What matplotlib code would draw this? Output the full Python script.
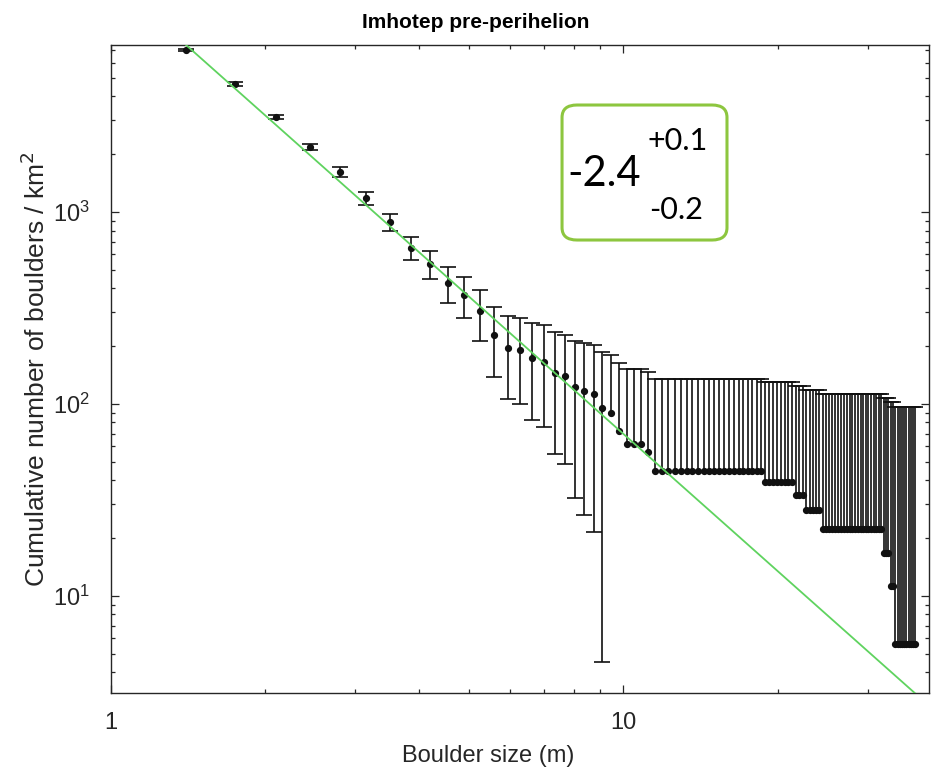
import numpy as np
import matplotlib
matplotlib.use('Agg')
import matplotlib.pyplot as plt
from matplotlib.patches import FancyBboxPatch
from matplotlib.ticker import FixedLocator, FixedFormatter, LogLocator, LogFormatterMathtext, NullFormatter

# boulder size (m)
size_m = [1.40, 1.75, 2.10, 2.45, 2.80, 3.15, 3.50, 3.85, 4.20, 4.55,
          4.90, 5.25, 5.60, 5.95, 6.30, 6.65, 7.00, 7.35, 7.70, 8.05,
          8.40, 8.75, 9.10, 9.45, 9.80, 10.15, 10.50, 10.85, 11.20, 11.55,
          11.90, 12.25, 12.60, 12.95, 13.30, 13.65, 14.00, 14.35, 14.70, 15.05,
          15.40, 15.75, 16.10, 16.45, 16.80, 17.15, 17.50, 17.85, 18.20, 18.55,
          18.90, 19.25, 19.60, 19.95, 20.30, 20.65, 21.00, 21.35, 21.70, 22.05,
          22.40, 22.75, 23.10, 23.45, 23.80, 24.15, 24.50, 24.85, 25.20, 25.55,
          25.90, 26.25, 26.60, 26.95, 27.30, 27.65, 28.00, 28.35, 28.70, 29.05,
          29.40, 29.75, 30.10, 30.45, 30.80, 31.15, 31.50, 31.85, 32.20, 32.55,
          32.90, 33.25, 33.60, 33.95, 34.30, 34.65, 35.00, 35.35, 35.70, 36.05,
          36.40, 36.75, 37.10]

# cumulative number of boulders / km^2
density = [6980, 4640, 3125, 2180, 1616, 1183, 887, 649, 536, 424,
           370, 303, 229, 196, 190, 173, 166, 145, 139, 123,
           117, 112, 95, 89.5, 72.5, 61.6, 61.6, 61.6, 56.0, 44.8,
           44.8, 44.8, 44.8, 44.8, 44.8, 44.8, 44.8, 44.8, 44.8, 44.8,
           44.8, 44.8, 44.8, 44.8, 44.8, 44.8, 44.8, 44.8, 44.8, 44.8,
           39.2, 39.2, 39.2, 39.2, 39.2, 39.2, 39.2, 39.2, 33.6, 33.6,
           33.6, 28.0, 28.0, 28.0, 28.0, 28.0, 22.4, 22.4, 22.4, 22.4,
           22.4, 22.4, 22.4, 22.4, 22.4, 22.4, 22.4, 22.4, 22.4, 22.4,
           22.4, 22.4, 22.4, 22.4, 22.4, 22.4, 22.4, 22.4, 16.8, 16.8,
           16.8, 11.2, 11.2, 5.6, 5.6, 5.6, 5.6, 5.6, 5.6, 5.6,
           5.6, 5.6, 5.6]

# error on each point (boulders / km^2)
err_val = 90.5

# power law fit  y = coef * x^slope
fit_slope = -2.374
fit_coef = 16530.0
fit_x = [1.0, 40.0]

x = np.array(size_m)
y = np.array(density)
err = np.full(len(y), err_val)
full = y > err
lower = np.where(full, err, 0.0)

plt.rcParams['font.family'] = ['Liberation Sans', 'DejaVu Sans']

fig = plt.figure(figsize=(9.33, 7.75), dpi=100)
ax = fig.add_axes([0.1187, 0.1062, 0.8770, 0.8357])

ink = '#111111'
ax.errorbar(x, y, yerr=[lower, err], fmt='o', color=ink, ms=4.2,
            elinewidth=1.2, capsize=0, zorder=2)
# caps
ax.plot(x, y + err, ls='none', marker='_', ms=11.5, mew=1.2, color=ink, zorder=2)
ax.plot(x[full], y[full] - err[full], ls='none', marker='_', ms=11.5, mew=1.2,
        color=ink, zorder=2)

fx = np.array(fit_x)
ax.plot(fx, fit_coef * fx ** fit_slope, color='#5fd35f', lw=1.3, zorder=3)

ax.set_xscale('log')
ax.set_yscale('log')
ax.set_xlim(1, 39.5)
ax.set_ylim(3.13, 7400)

ax.xaxis.set_major_locator(FixedLocator([1, 10]))
ax.xaxis.set_major_formatter(FixedFormatter(['1', '10']))
ax.xaxis.set_minor_locator(LogLocator(base=10, subs=np.arange(2, 10)))
ax.xaxis.set_minor_formatter(NullFormatter())
ax.yaxis.set_major_locator(FixedLocator([10, 100, 1000]))
ax.yaxis.set_major_formatter(LogFormatterMathtext())
ax.yaxis.set_minor_locator(LogLocator(base=10, subs=np.arange(2, 10)))
ax.yaxis.set_minor_formatter(NullFormatter())

ax.tick_params(which='both', direction='in', top=True, right=True,
               colors='#262626', labelsize=17, width=0.9)
ax.tick_params(which='major', length=6)
ax.tick_params(which='minor', length=3)
ax.tick_params(axis='x', which='major', pad=14)
ax.tick_params(axis='y', which='major', pad=15)
for sp in ax.spines.values():
    sp.set_color('#262626')
    sp.set_linewidth(1.0)

ax.set_xlabel('Boulder size (m)', fontsize=17, color='#262626', labelpad=8, x=0.461)
ax.set_ylabel('Cumulative number of boulders / km$^2$', fontsize=19,
              color='#262626', labelpad=2)
ax.set_title('Imhotep pre-perihelion', fontsize=15, fontweight='bold', pad=12,
             x=0.446)

# slope annotation box
box = FancyBboxPatch((0.6024, 0.6903), 0.1768, 0.1742,
                     boxstyle='round,pad=0,rounding_size=0.016',
                     transform=fig.transFigure, facecolor='white',
                     edgecolor='#8dc63f', lw=2.2, zorder=5)
fig.patches.append(box)
fig.text(0.608, 0.775, '-2.4', fontsize=30, family=['Lato', 'DejaVu Sans'],
         va='center', ha='left', zorder=6)
fig.text(0.694, 0.818, '+0.1', fontsize=22, family=['Lato', 'DejaVu Sans'],
         va='center', ha='left', zorder=6)
fig.text(0.696, 0.729, '-0.2', fontsize=22, family=['Lato', 'DejaVu Sans'],
         va='center', ha='left', zorder=6)

fig.savefig('out.png', dpi=100)
